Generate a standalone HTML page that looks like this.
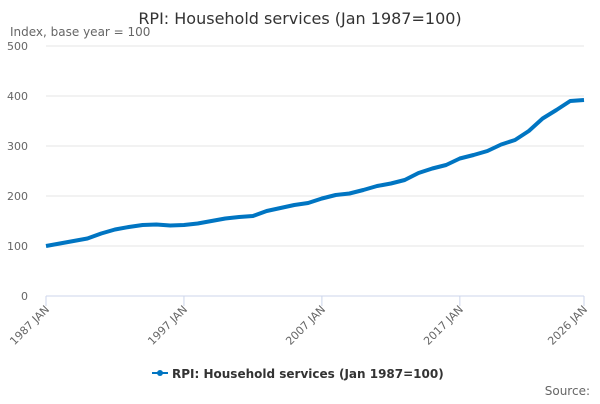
<!DOCTYPE html>
<html><head><meta charset="utf-8"><style>
body{margin:0;width:600px;height:400px;background:#fff;overflow:hidden;font-family:"DejaVu Sans","Liberation Sans",sans-serif}
</style></head><body>
<svg width="600" height="400" xmlns="http://www.w3.org/2000/svg">
<text x="300" y="24" text-anchor="middle" font-size="16" fill="#333">RPI: Household services (Jan 1987=100)</text>
<text x="10" y="36" font-size="12" fill="#666">Index, base year = 100</text>
<g id="grid"></g><g id="xaxis"></g>
<path id="line" fill="none" stroke="#0075c2" stroke-width="4" stroke-linejoin="round"/>
<g>
<line x1="152" y1="373" x2="168" y2="373" stroke="#0075c2" stroke-width="2"/>
<circle cx="160" cy="373" r="3" fill="#0075c2"/>
<text x="172" y="378" font-size="12" font-weight="bold" fill="#333">RPI: Household services (Jan 1987=100)</text>
</g>
<text x="590" y="395" text-anchor="end" font-size="12" fill="#666">Source:</text>
</svg>
<script>
const years=[1987,1988,1989,1990,1991,1992,1993,1994,1995,1996,1997,1998,1999,2000,2001,2002,2003,2004,2005,2006,2007,2008,2009,2010,2011,2012,2013,2014,2015,2016,2017,2018,2019,2020,2021,2022,2023,2024,2025,2026];
const values=[100,105,110,115,125,133,138,142,143,141,142,145,150,155,158,160,170,176,182,186,195,202,205,212,220,225,232,246,255,262,275,282,290,303,312,330,355,372,390,392];
const yTicks=[0,100,200,300,400,500];
const xTicks=[1987,1997,2007,2017,2026];
const xLabels=["1987 JAN","1997 JAN","2007 JAN","2017 JAN","2026 JAN"];
const X=y=>46+(y-1987)*(538/39), Y=v=>296-v*0.5;
const ns="http://www.w3.org/2000/svg";
const g=document.getElementById('grid'), xa=document.getElementById('xaxis');
yTicks.forEach(t=>{
 if(t>0){const l=document.createElementNS(ns,'line');l.setAttribute('x1',46);l.setAttribute('x2',584);l.setAttribute('y1',Y(t));l.setAttribute('y2',Y(t));l.setAttribute('stroke','#e6e6e6');
 
 g.appendChild(l);}
 const tx=document.createElementNS(ns,'text');tx.setAttribute('x',28);tx.setAttribute('y',Y(t)+4);tx.setAttribute('text-anchor','end');tx.setAttribute('font-size','11');tx.setAttribute('fill','#666');tx.textContent=t;
 
 g.appendChild(tx);
});
const ax=document.createElementNS(ns,'line');ax.setAttribute('x1',46);ax.setAttribute('x2',584);ax.setAttribute('y1',296);ax.setAttribute('y2',296);ax.setAttribute('stroke','#ccd6eb');

xa.appendChild(ax);
xTicks.forEach((t,i)=>{
 const l=document.createElementNS(ns,'line');l.setAttribute('x1',X(t));l.setAttribute('x2',X(t));l.setAttribute('y1',296);l.setAttribute('y2',306);l.setAttribute('stroke','#ccd6eb');
 
 xa.appendChild(l);
 const tx=document.createElementNS(ns,'text');const x=X(t)+4,y=310;tx.setAttribute('x',x);tx.setAttribute('y',y);tx.setAttribute('text-anchor','end');tx.setAttribute('font-size','11');tx.setAttribute('fill','#666');tx.setAttribute('transform',`rotate(-45 ${x} ${y})`);tx.textContent=xLabels[i];
 
 xa.appendChild(tx);
});
document.getElementById('line').setAttribute('d',values.map((v,i)=>(i?'L':'M')+X(years[i]).toFixed(1)+','+Y(v).toFixed(1)).join(''));
</script>
</body></html>
